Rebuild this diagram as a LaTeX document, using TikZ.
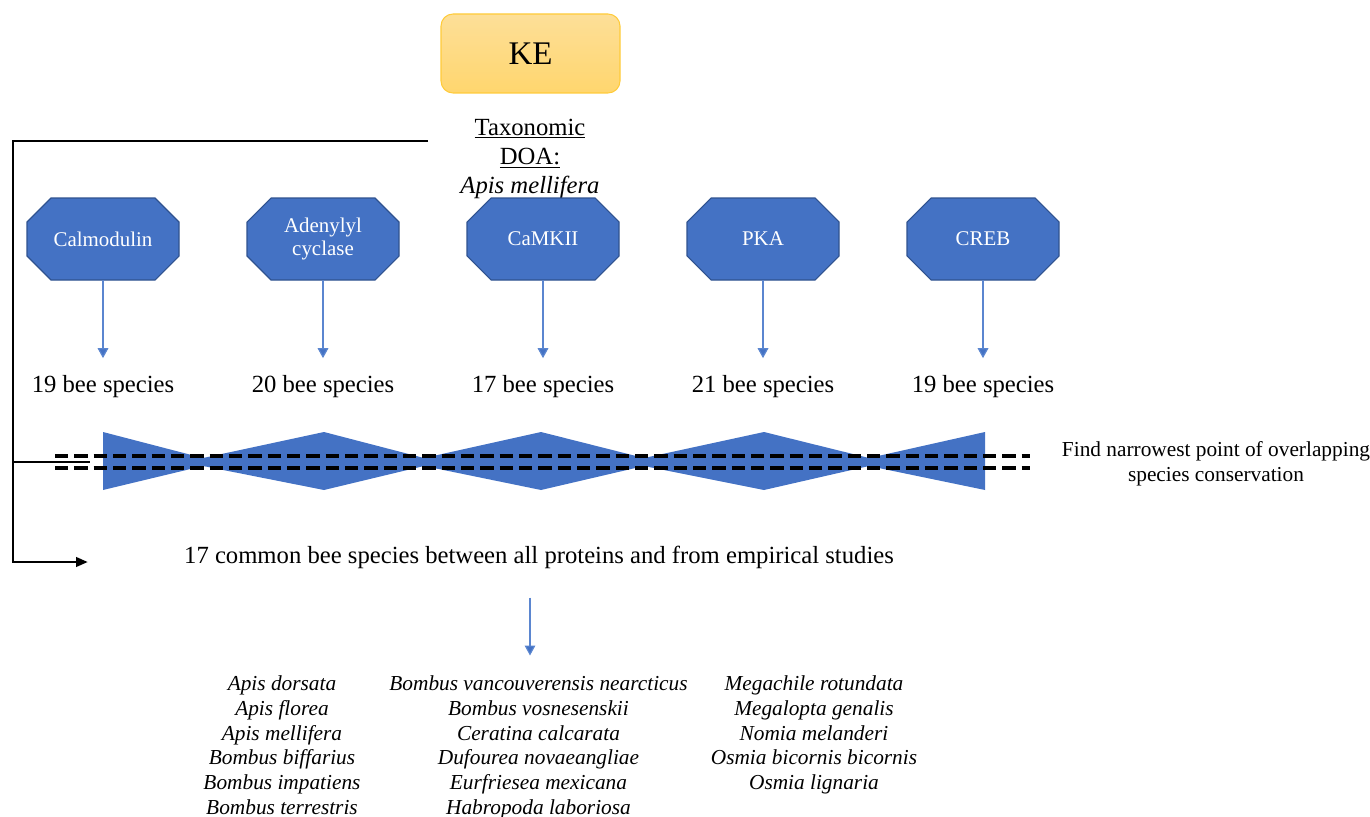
\documentclass[tikz,border=0pt]{standalone}
\usepackage{fontspec}
\setmainfont{Liberation Serif}
\usetikzlibrary{arrows.meta}
\definecolor{obl}{HTML}{4472C4}
\definecolor{obd}{HTML}{2F528F}
\definecolor{arrc}{HTML}{5B86D0}
\definecolor{ketop}{HTML}{FDDF98}
\definecolor{kebot}{HTML}{FFD66E}
\definecolor{kedraw}{HTML}{FFCB3A}
\begin{document}
\begin{tikzpicture}[x=0.75pt,y=-0.75pt,
  kebox/.style={rounded corners=9pt, minimum width=134.25pt, minimum height=59.25pt,
    top color=ketop, bottom color=kebot, draw=kedraw, line width=0.8pt,
    font=\fontsize{24.75}{28}\selectfont},
  octfill/.style={fill=obl, draw=obd, line width=0.8pt},
  octnode/.style={minimum width=114pt, minimum height=61.5pt, inner sep=0pt,
    text=white, align=center, font=\fontsize{15.7}{17.5}\selectfont},
  bee/.style={font=\fontsize{18.5}{22}\selectfont, anchor=base},
  barrow/.style={draw=arrc, line width=0.9pt, -{Triangle[length=7.5pt,width=8pt,fill=obl]}},
  frame/.style={line width=2.2pt, -{Triangle[length=9pt,width=7pt]}},
  branch/.style={line width=1.8pt},
  dashline/.style={line width=2.4pt, dash pattern=on 10pt off 4.5pt},
  splist/.style={align=center, anchor=north, inner sep=0pt,
    font=\fontsize{16}{18.6}\selectfont\itshape},
  note/.style={align=center, font=\fontsize{16}{18.75}\selectfont}
]
\useasboundingbox (0,0) rectangle (1370,817);

% KE box
\node[kebox] (ke) at (530.5,53.5) {KE};

% Taxonomic DOA
\node[align=center, anchor=north, inner sep=0pt, font=\fontsize{18.5}{21.75}\selectfont]
  (doa) at (530,119) {\underline{Taxonomic}\\\underline{DOA:}\\\textit{Apis mellifera}};

% octagons
\foreach \cx/\nm/\tx/\cnt in {103/c1/Calmodulin/19, 323/c2/{Adenylyl\\cyclase}/20,
   543/c3/CaMKII/17, 763/c4/PKA/21, 983/c5/CREB/19}{
  \draw[octfill] (\cx-52,198) -- (\cx+52,198) -- (\cx+76,222) -- (\cx+76,256)
     -- (\cx+52,280) -- (\cx-52,280) -- (\cx-76,256) -- (\cx-76,222) -- cycle;
  \node[octnode] (\nm) at (\cx,239) {\tx};
  \node[bee] (s\nm) at (\cx,392) {\cnt\ bee species};
  \draw[barrow, shorten >=9pt] (\nm.south) -- (s\nm.north);
}

% bowtie shape
\fill[obl] (103,432) -- (203,458) -- (324,432) -- (424,458) -- (541,432) -- (644,458)
  -- (764,432) -- (869,458) -- (985,432) -- (985,490) -- (869,466) -- (764,490)
  -- (644,466) -- (541,490) -- (424,466) -- (324,490) -- (203,466) -- (103,490) -- cycle;

% dashed lines
\coordinate (d1a) at (55,456); \coordinate (d1b) at (1030,456);
\coordinate (d2a) at (55,468); \coordinate (d2b) at (1030,468);
\draw[dashline] (d1a) -- (d1b);
\draw[dashline] (d2a) -- (d2b);

% note
\node[note] (fn) at (1216,464) {Find narrowest point of overlapping\\species conservation};

% common text
\node[bee] (common) at (539,563) {17 common bee species between all proteins and from empirical studies};

% frame
\coordinate (fs) at (428,141);
\coordinate (fc) at (13,141);
\coordinate (fe) at (88,562);
\draw[frame] (fs) -- (fc) |- (fe);
\coordinate (b1) at (13,462);
\coordinate (b2) at (90,462);
\draw[branch] (b1) -- (b2);

% species list
\node[splist] (col1) at (282,675.5) {Apis dorsata\\Apis florea\\Apis mellifera\\Bombus biffarius\\Bombus impatiens\\Bombus terrestris};
\node[splist] (col2) at (538.5,675.5) {Bombus vancouverensis nearcticus\\Bombus vosnesenskii\\Ceratina calcarata\\Dufourea novaeangliae\\Eurfriesea mexicana\\Habropoda laboriosa};
\node[splist] (col3) at (814,675.5) {Megachile rotundata\\Megalopta genalis\\Nomia melanderi\\Osmia bicornis bicornis\\Osmia lignaria};

% arrow to list
\coordinate (ax) at (530,0);
\draw[barrow, shorten <=18.5pt, shorten >=15pt] (common.south -| ax) -- (col2.north -| ax);
\end{tikzpicture}
\end{document}
